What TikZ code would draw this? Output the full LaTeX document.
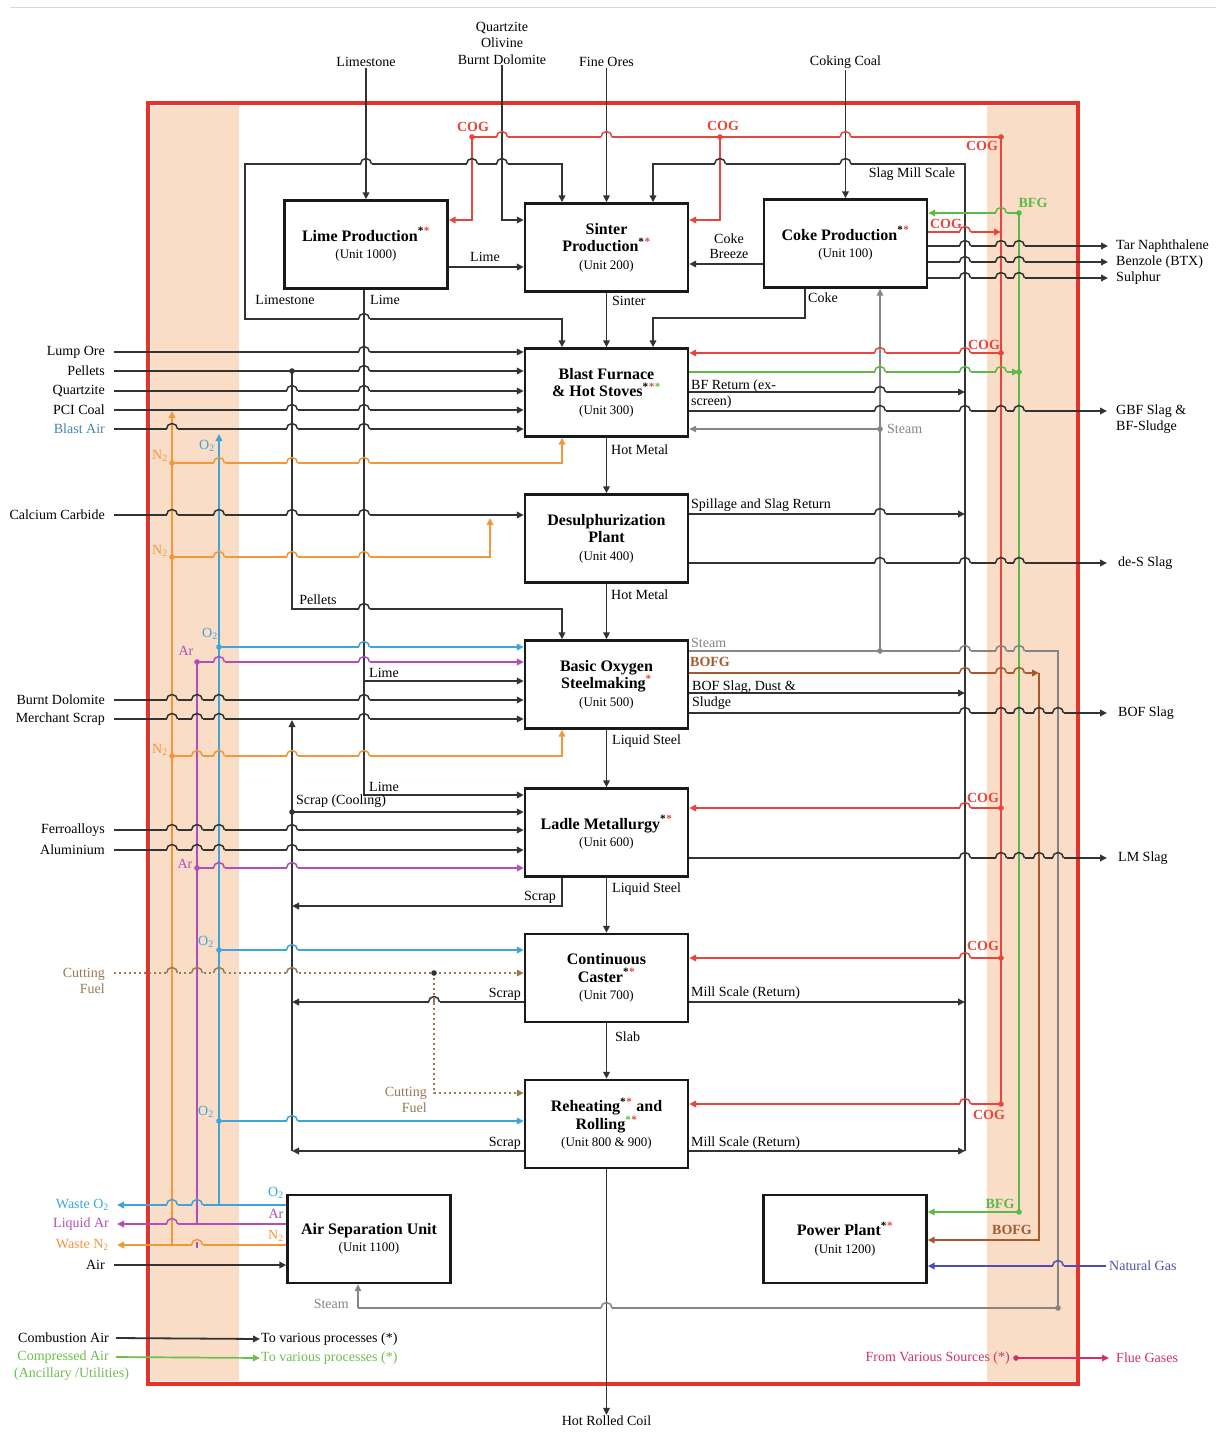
\documentclass[tikz,border=0pt]{standalone}
\usepackage{fontspec}
\setmainfont{Liberation Serif}
\usetikzlibrary{arrows.meta}
\definecolor{framered}{HTML}{E6332A}
\definecolor{peach}{HTML}{F9DDC7}
\definecolor{cogred}{HTML}{E8453C}
\definecolor{bfggreen}{HTML}{5CB947}
\definecolor{o2blue}{HTML}{3DA5DA}
\definecolor{arpurple}{HTML}{B14FB9}
\definecolor{n2orange}{HTML}{F2973A}
\definecolor{bofgbrown}{HTML}{A65A2C}
\definecolor{steamgray}{HTML}{858585}
\definecolor{nggas}{HTML}{4B4FB3}
\definecolor{fluered}{HTML}{D42F6A}
\definecolor{cutbrown}{HTML}{9A7A52}
\definecolor{blastblue}{HTML}{3F86B0}
\definecolor{compgreen}{HTML}{6DBF4B}
\definecolor{linegray}{HTML}{333333}
\newcommand{\stc}[1]{\textsuperscript{\textcolor{#1}{*}}}
\newcommand{\unitx}[1]{{\fontsize{13}{14}\selectfont\mdseries #1}}
\newcommand{\jdot}[2]{\fill[#1] (#2) circle (2.8pt);}
% hop of a horizontal line (colour #1) over a vertical line (colour #2) at (#3,#4)
\newcommand{\hopx}[4]{%
  \pgfmathtruncatemacro{\inband}{((#3>150)&&(#3<240))||((#3>986)&&(#3<1077))}%
  \ifnum\inband=1 \def\hopbg{peach}\else\def\hopbg{white}\fi
  \fill[fill=\hopbg] ({#3-5.5},{#4-1.3}) rectangle ({#3+5.5},{#4+1.3});
  \draw[draw=#2, line width=1.7pt] ({#3},{#4-3}) -- ({#3},{#4+3});
  \draw[draw=#1, line width=1.5pt] ({#3-5.5},{#4}) arc[start angle=180, end angle=0, radius=5.5pt];}
\begin{document}
\begin{tikzpicture}[x=1pt,y=-1pt,
  box/.style={draw=black!90, line width=2.4pt, fill=white, minimum width=163pt, minimum height=88pt, align=center, inner sep=2pt, font=\fontsize{16}{17.5}\selectfont\bfseries},
  lbl/.style={inner sep=1pt, font=\fontsize{14}{16}\selectfont},
  cogl/.style={lbl, text=cogred, font=\fontsize{14}{15}\selectfont\bfseries},
  tip/.style={-{Triangle[length=7pt,width=6.5pt]}},
  ln/.style={draw=linegray, line width=1.8pt},
  arr/.style={ln, tip},
  cogln/.style={draw=cogred, line width=1.9pt},
  cogarr/.style={cogln, tip},
  bfgln/.style={draw=bfggreen, line width=1.9pt},
  bfgarr/.style={bfgln, tip},
  o2ln/.style={draw=o2blue, line width=1.9pt},
  o2arr/.style={o2ln, tip},
  arln/.style={draw=arpurple, line width=1.7pt},
  ararr/.style={arln, tip},
  n2ln/.style={draw=n2orange, line width=1.7pt},
  n2arr/.style={n2ln, tip},
  bofgln/.style={draw=bofgbrown, line width=1.7pt},
  bofgarr/.style={bofgln, tip},
  steamln/.style={draw=steamgray, line width=1.5pt},
  steamarr/.style={steamln, tip},
  ngarr/.style={draw=nggas, line width=1.7pt, tip},
  fluearr/.style={draw=fluered, line width=1.5pt, tip},
  cutarr/.style={draw=cutbrown, line width=1.7pt, dash pattern=on 2pt off 3pt, tip},
  comparr/.style={draw=compgreen, line width=1.7pt, tip}
]
\useasboundingbox (0,0) rectangle (1216,1439);
\fill[white] (0,0) rectangle (1216,1439);
\draw[black!15, line width=1pt] (10,8) -- (1216,8);
\fill[peach] (151,106) rectangle (239,1381);
\fill[peach] (987,106) rectangle (1076,1381);
\draw[framered, line width=4.5pt] (148,103) rectangle (1078,1384);

\coordinate (cogA) at (472,137);
\coordinate (cogB) at (720,137);
\coordinate (cogC) at (1001,137);
\coordinate (cogD) at (1001,1104);
\coordinate (colT) at (965,164);
\coordinate (colB) at (965,1151);
\coordinate (lsL) at (245,240);

% boxes
\node[box] (lime) at (366,244.5) {Lime Production\stc{black}\stc{cogred}\\\unitx{(Unit 1000)}};
\node[box] (sinter) at (606.5,247.5) {Sinter\\Production\stc{black}\stc{cogred}\\\unitx{(Unit 200)}};
\node[box] (coke) at (845.5,243.5) {Coke Production\stc{black}\stc{cogred}\\\unitx{(Unit 100)}};
\node[box] (bf) at (606.5,392.5) {Blast Furnace\\\& Hot Stoves\stc{black}\stc{cogred}\stc{bfggreen}\\\unitx{(Unit 300)}};
\node[box] (ds) at (606.5,538.5) {Desulphurization\\Plant\\\unitx{(Unit 400)}};
\node[box] (bof) at (606.5,684.5) {Basic Oxygen\\Steelmaking\stc{cogred}\\\unitx{(Unit 500)}};
\node[box] (lm) at (606.5,832.5) {Ladle Metallurgy\stc{black}\stc{cogred}\\\unitx{(Unit 600)}};
\node[box] (cc) at (606.5,978) {Continuous\\Caster\stc{black}\stc{cogred}\\\unitx{(Unit 700)}};
\node[box] (rr) at (606.5,1124) {Reheating\stc{black}\stc{cogred} and\\Rolling\stc{bfggreen}\stc{cogred}\\\unitx{(Unit 800 \& 900)}};
\node[box] (asu) at (369,1239) {Air Separation Unit\\\unitx{(Unit 1100)}};
\node[box] (pp) at (845,1239) {Power Plant\stc{black}\stc{cogred}\\\unitx{(Unit 1200)}};

% main chain
\draw[arr] (sinter.south) -- (bf.north);
\draw[arr] (bf.south) -- (ds.north);
\draw[arr] (ds.south) -- (bof.north);
\draw[arr] (bof.south) -- (lm.north);
\draw[arr] (lm.south) -- (cc.north);
\draw[arr] (cc.south) -- (rr.north);
\node[lbl] (hrc) at (606.5,1421) {Hot Rolled Coil};
\draw[arr] (rr.south) -- (hrc.north);
\node[lbl, anchor=west] (lsinter) at (611,301) {Sinter};
\node[lbl, anchor=west] (lhm1) at (610,450) {Hot Metal};
\node[lbl, anchor=west] (lhm2) at (610,595) {Hot Metal};
\node[lbl, anchor=west] (lls1) at (611,741) {Liquid Steel};
\node[lbl, anchor=west] (lls2) at (611,889) {Liquid Steel};
\node[lbl, anchor=west] (lslab) at (614,1037) {Slab};

% top inputs
\node[lbl] (limestone) at (366,62) {Limestone};
\draw[arr] (limestone.south) -- (lime.north);
\node[lbl, align=center, font=\fontsize{14}{16.5}\selectfont] (qob) at (502,43) {Quartzite\\Olivine\\Burnt Dolomite};
\draw[arr] (qob.south) |- (sinter.west |- 0,220);
\node[lbl] (fineores) at (606.5,62) {Fine Ores};
\draw[arr] (fineores.south) -- (sinter.north);
\node[lbl] (cokingcoal) at (845.5,62) {Coking Coal};
\draw[arr] (cokingcoal.south) -- (coke.north);

% COG network
\draw[cogln] (cogA) -- (cogC) -- (cogD);
\draw[cogarr] (cogA) |- (lime.east |- 0,220);
\draw[cogarr] (cogB) |- (sinter.east |- 0,220);
\draw[cogarr] (coke.east |- 0,232) -- (cogC |- 0,232);
\draw[cogarr] (cogC |- 0,353) -- (bf.east |- 0,353);
\draw[cogarr] (cogC |- 0,808) -- (lm.east |- 0,808);
\draw[cogarr] (cogC |- 0,958) -- (cc.east |- 0,958);
\draw[cogarr] (cogD) -- (rr.east |- cogD);

% return loops
\draw[arr] (colB) -- (colT) -| (sinter.north -| 653,0);
\draw[arr] (lsL) |- (562,164) -- (sinter.north -| 562,0);
\draw[arr] (lsL) |- (562,319) -- (bf.north -| 562,0);

% lime
\draw[arr] (lime.east |- 0,267) -- (sinter.west |- 0,267);
\draw[arr] (lime.south -| 364,0) |- (lm.west |- 0,795);
\draw[arr] (364,681) -- (bof.west |- 0,681);

% coke
\draw[arr] (coke.west |- 0,264) -- (sinter.east |- 0,264);
\draw[arr] (coke.south -| 805,0) |- (653,318) -- (bf.north -| 653,0);

% left BF inputs
\node[lbl, anchor=east] (lumpore) at (106,352) {Lump Ore};
\node[lbl, anchor=east] (pellets) at (106,371) {Pellets};
\node[lbl, anchor=east] (quartzite) at (106,391) {Quartzite};
\node[lbl, anchor=east] (pcicoal) at (106,410) {PCI Coal};
\node[lbl, anchor=east, text=blastblue] (blastair) at (106,429) {Blast Air};
\draw[arr] ([xshift=8pt]lumpore.east) -- (bf.west |- lumpore);
\draw[arr] ([xshift=8pt]pellets.east) -- (bf.west |- pellets);
\draw[arr] ([xshift=8pt]quartzite.east) -- (bf.west |- quartzite);
\draw[arr] ([xshift=8pt]pcicoal.east) -- (bf.west |- pcicoal);
\draw[arr] ([xshift=8pt]blastair.east) -- (bf.west |- blastair);
\draw[arr] (292,371) |- (562,609) -- (bof.north -| 562,0);

% other left inputs
\node[lbl, anchor=east] (cacarb) at (106,515) {Calcium Carbide};
\draw[arr] ([xshift=8pt]cacarb.east) -- (ds.west |- cacarb);
\node[lbl, anchor=east] (bdolo) at (106,700) {Burnt Dolomite};
\draw[arr] ([xshift=8pt]bdolo.east) -- (bof.west |- bdolo);
\node[lbl, anchor=east] (mscrap) at (106,719) {Merchant Scrap};
\draw[arr] ([xshift=8pt]mscrap.east) -- (bof.west |- mscrap);
\node[lbl, anchor=east] (ferro) at (106,830) {Ferroalloys};
\draw[arr] ([xshift=8pt]ferro.east) -- (lm.west |- ferro);
\node[lbl, anchor=east] (alu) at (106,850) {Aluminium};
\draw[arr] ([xshift=8pt]alu.east) -- (lm.west |- alu);

% N2
\draw[n2arr] (172,1245) -- (172,411);
\draw[n2arr] (172,463) -| (bf.south -| 562,0);
\draw[n2arr] (172,557) -| (490,518);
\draw[n2arr] (172,756) -| (bof.south -| 562,0);

% O2
\draw[o2arr] (219,1205) -- (219,434);
\draw[o2arr] (219,647) -- (bof.west |- 0,647);
\draw[o2arr] (219,950) -- (cc.west |- 0,950);
\draw[o2arr] (219,1121) -- (rr.west |- 0,1121);

% Ar
\draw[arln] (197,1224) -- (197,662);
\draw[ararr] (197,662) -- (bof.west |- 0,662);
\draw[ararr] (197,868) -- (lm.west |- 0,868);

% ASU
\node[lbl, anchor=east, text=o2blue] (wasteo2) at (110,1205) {Waste O\textsubscript{2}};
\node[lbl, anchor=east, text=arpurple] (liqar) at (110,1224) {Liquid Ar};
\node[lbl, anchor=east, text=n2orange] (wasten2) at (110,1245) {Waste N\textsubscript{2}};
\node[lbl, anchor=east] (air) at (106,1265) {Air};
\draw[o2arr] (asu.west |- wasteo2) -- ([xshift=7pt]wasteo2.east);
\draw[ararr] (asu.west |- liqar) -- ([xshift=7pt]liqar.east);
\draw[n2arr] (asu.west |- wasten2) -- ([xshift=7pt]wasten2.east);
\draw[arr] ([xshift=8pt]air.east) -- (asu.west |- air);

% cutting fuel
\coordinate (cfS) at (114,973);
\node[lbl, anchor=east, align=right, text=cutbrown] (cf1) at (106,981) {Cutting\\Fuel};
\draw[cutarr] (cfS) -- (cc.west |- cfS);
\draw[cutarr] (434,973) |- (rr.west |- 0,1093);
\node[lbl, anchor=east, align=right, text=cutbrown] (cf2) at (428,1100) {Cutting\\Fuel};

% scrap
\draw[arr] (292,1151) -- (292,720);
\draw[arr] (292,812) -- (lm.west |- 0,812);
\draw[arr] (lm.south -| 562,0) |- (292,906);
\draw[arr] (cc.west |- 0,1002) -- (292,1002);
\draw[arr] (rr.west |- 0,1151) -- (292,1151);

% right side BF
\draw[bfgarr] (bf.east |- 0,372) -- (1019,372);
\draw[arr] (bf.east |- 0,392) -- (colT |- 0,392);
\draw[arr] (bf.east |- 0,411) -- (1107,411);
\draw[steamarr] (880,429) -- (bf.east |- 0,429);
\draw[steamarr] (880,651) -- (coke.south -| 880,0);
\draw[steamln] (bof.east |- 0,651) -- (1058,651) -- (1058,1308) -- (358,1308);
\draw[steamarr] (358,1308) -- (asu.south -| 358,0);

% desulph right
\draw[arr] (ds.east |- 0,514) -- (colT |- 0,514);
\draw[arr] (ds.east |- 0,563) -- (1107,563);

% BOF right
\draw[bofgarr] (bof.east |- 0,673) -- (1039,673);
\draw[bofgarr] (1039,673) |- (pp.east |- 0,1240);
\draw[arr] (bof.east |- 0,693) -- (colT |- 0,693);
\draw[arr] (bof.east |- 0,713) -- (1107,713);

% LM, CC, RR right
\draw[arr] (lm.east |- 0,858) -- (1107,858);
\draw[arr] (cc.east |- 0,1002) -- (colT |- 0,1002);
\draw[arr] (rr.east |- 0,1151) -- (colB);

% BFG
\draw[bfgln] (1019,1212) -- (1019,213);
\draw[bfgarr] (1019,213) -- (coke.east |- 0,213);
\draw[bfgarr] (1019,1212) -- (pp.east |- 0,1212);

% coke outputs
\node[lbl, anchor=west] (tar) at (1115,246) {Tar Naphthalene};
\node[lbl, anchor=west] (benz) at (1115,262) {Benzole (BTX)};
\node[lbl, anchor=west] (sulph) at (1115,278) {Sulphur};
\draw[arr] (coke.east |- tar) -- ([xshift=-7pt]tar.west);
\draw[arr] (coke.east |- benz) -- ([xshift=-7pt]benz.west);
\draw[arr] (coke.east |- sulph) -- ([xshift=-7pt]sulph.west);

% natural gas
\node[lbl, anchor=west, text=nggas] (ng) at (1108,1266) {Natural Gas};
\draw[ngarr] ([xshift=-2pt]ng.west) -- (pp.east |- ng);

% ---------- line hops at crossings: x/y/horizontal colour/vertical colour ----------
\foreach \hx/\hy/\hc/\vc in {
  364/319/linegray/linegray, 364/352/linegray/linegray, 364/371/linegray/linegray, 364/391/linegray/linegray,
  364/410/linegray/linegray, 364/429/linegray/linegray, 364/515/linegray/linegray, 364/609/linegray/linegray,
  364/700/linegray/linegray, 364/719/linegray/linegray,
  292/391/linegray/linegray, 292/410/linegray/linegray, 292/429/linegray/linegray, 292/515/linegray/linegray,
  292/830/linegray/linegray, 292/850/linegray/linegray,
  502/164/linegray/linegray, 366/164/linegray/linegray, 845.5/164/linegray/linegray,
  965/246/linegray/linegray, 965/262/linegray/linegray, 965/278/linegray/linegray, 965/411/linegray/linegray,
  965/563/linegray/linegray, 965/713/linegray/linegray, 965/858/linegray/linegray,
  172/429/linegray/n2orange, 172/515/linegray/n2orange, 172/700/linegray/n2orange, 172/719/linegray/n2orange,
  172/830/linegray/n2orange, 172/850/linegray/n2orange,
  197/700/linegray/arpurple, 197/719/linegray/arpurple, 197/830/linegray/arpurple, 197/850/linegray/arpurple,
  219/515/linegray/o2blue, 219/700/linegray/o2blue, 219/719/linegray/o2blue, 219/830/linegray/o2blue, 219/850/linegray/o2blue,
  434/1002/linegray/cutbrown,
  472/164/linegray/cogred, 720/164/linegray/cogred,
  1001/246/linegray/cogred, 1001/262/linegray/cogred, 1001/278/linegray/cogred, 1001/411/linegray/cogred,
  1001/563/linegray/cogred, 1001/713/linegray/cogred, 1001/858/linegray/cogred,
  880/392/linegray/steamgray, 880/411/linegray/steamgray, 880/514/linegray/steamgray, 880/563/linegray/steamgray,
  1058/713/linegray/steamgray, 1058/858/linegray/steamgray,
  1019/246/linegray/bfggreen, 1019/262/linegray/bfggreen, 1019/278/linegray/bfggreen, 1019/411/linegray/bfggreen,
  1019/563/linegray/bfggreen, 1019/713/linegray/bfggreen, 1019/858/linegray/bfggreen,
  1039/713/linegray/bofgbrown, 1039/858/linegray/bofgbrown,
  502/137/cogred/linegray, 606.5/137/cogred/linegray, 845.5/137/cogred/linegray,
  965/232/cogred/linegray, 965/353/cogred/linegray, 965/808/cogred/linegray, 965/958/cogred/linegray, 965/1104/cogred/linegray,
  880/353/cogred/steamgray,
  880/372/bfggreen/steamgray, 965/372/bfggreen/linegray, 1001/372/bfggreen/cogred, 1001/213/bfggreen/cogred,
  965/651/steamgray/linegray, 1001/651/steamgray/cogred, 1019/651/steamgray/bfggreen,
  965/673/bofgbrown/linegray, 1001/673/bofgbrown/cogred, 1019/673/bofgbrown/bfggreen,
  219/463/n2orange/o2blue, 219/557/n2orange/o2blue, 219/756/n2orange/o2blue,
  292/463/n2orange/linegray, 364/463/n2orange/linegray, 292/557/n2orange/linegray, 364/557/n2orange/linegray,
  292/756/n2orange/linegray, 364/756/n2orange/linegray, 197/756/n2orange/arpurple, 197/1245/n2orange/arpurple,
  219/662/arpurple/o2blue, 219/868/arpurple/o2blue, 364/662/arpurple/linegray, 292/868/arpurple/linegray,
  172/1224/arpurple/n2orange,
  364/647/o2blue/linegray, 292/950/o2blue/linegray, 292/1121/o2blue/linegray,
  172/1205/o2blue/n2orange, 197/1205/o2blue/arpurple,
  172/973/cutbrown/n2orange, 197/973/cutbrown/arpurple, 219/973/cutbrown/o2blue, 292/973/cutbrown/linegray,
  1058/1266/nggas/steamgray, 606.5/1308/steamgray/linegray}
  {\hopx{\hc}{\vc}{\hx}{\hy}}

% junction dots
\jdot{cogred}{cogA} \jdot{cogred}{cogB} \jdot{cogred}{cogC}
\jdot{cogred}{1001,353} \jdot{cogred}{1001,808} \jdot{cogred}{1001,958} \jdot{cogred}{cogD}
\jdot{linegray}{292,371}
\jdot{n2orange}{172,463} \jdot{n2orange}{172,557} \jdot{n2orange}{172,756}
\jdot{o2blue}{219,647} \jdot{o2blue}{219,950} \jdot{o2blue}{219,1121}
\jdot{arpurple}{197,662} \jdot{arpurple}{197,868}
\jdot{linegray}{434,973}
\jdot{linegray}{292,812}
\jdot{steamgray}{880,429}
\jdot{steamgray}{880,651} \jdot{steamgray}{1058,1308}
\jdot{bfggreen}{1019,213} \jdot{bfggreen}{1019,372} \jdot{bfggreen}{1019,1212}

% ---------- labels ----------
\node[cogl] (cog1) at (473,127) {COG};
\node[cogl] (cog2) at (723,126) {COG};
\node[cogl] (cog3) at (982,146) {COG};
\node[cogl] (cog4) at (946,224) {COG};
\node[cogl] (cog5) at (984,345) {COG};
\node[cogl] (cog6) at (983,798) {COG};
\node[cogl] (cog7) at (983,946) {COG};
\node[cogl] (cog8) at (989,1115) {COG};
\node[lbl] (slagmill) at (912,174) {Slag Mill Scale};
\node[lbl] (llimestone) at (285,300) {Limestone};
\node[lbl] (llime1) at (485,257) {Lime};
\node[lbl] (llime2) at (385,300) {Lime};
\node[lbl, anchor=west] (llime3) at (368,673) {Lime};
\node[lbl, anchor=west] (llime4) at (368,787) {Lime};
\node[lbl, align=center, font=\fontsize{14}{15.5}\selectfont] (lbreeze) at (729,246) {Coke\\Breeze};
\node[lbl] (lcoke) at (823,298) {Coke};
\node[lbl] (lpellets) at (318,600) {Pellets};
\node[lbl, text=n2orange] (ln2a) at (160,456) {N\textsubscript{2}};
\node[lbl, text=n2orange] (ln2b) at (160,551) {N\textsubscript{2}};
\node[lbl, text=n2orange] (ln2c) at (160,750) {N\textsubscript{2}};
\node[lbl, text=o2blue] (lo2a) at (207,446) {O\textsubscript{2}};
\node[lbl, text=o2blue] (lo2b) at (210,634) {O\textsubscript{2}};
\node[lbl, text=o2blue] (lo2c) at (206,942) {O\textsubscript{2}};
\node[lbl, text=o2blue] (lo2d) at (206,1112) {O\textsubscript{2}};
\node[lbl, text=arpurple] (lara) at (186,651) {Ar};
\node[lbl, text=arpurple] (larb) at (185,864) {Ar};
\node[lbl, text=o2blue] (lo2e) at (276,1193) {O\textsubscript{2}};
\node[lbl, text=arpurple] (larc) at (276,1214) {Ar};
\node[lbl, text=n2orange] (ln2d) at (276,1236) {N\textsubscript{2}};
\node[lbl, anchor=west] (lscool) at (295,801) {Scrap (Cooling)};
\node[lbl] (lscrap1) at (540,897) {Scrap};
\node[lbl, anchor=east] (lscrap2) at (522,994) {Scrap};
\node[lbl, anchor=east] (lscrap3) at (522,1143) {Scrap};
\node[lbl, anchor=west, align=left] (lbfret) at (690,394) {BF Return (ex-\\screen)};
\node[lbl, anchor=west, align=left] (lgbf) at (1115,419) {GBF Slag \&\\BF-Sludge};
\node[lbl, anchor=west, text=steamgray] (lsteam1) at (886,429) {Steam};
\node[lbl, anchor=west, text=steamgray] (lsteam2) at (690,643) {Steam};
\node[lbl, anchor=east, text=steamgray] (lsteam3) at (350,1304) {Steam};
\node[lbl, anchor=west] (lspill) at (690,505) {Spillage and Slag Return};
\node[lbl, anchor=west] (ldes) at (1117,563) {de-S Slag};
\node[lbl, anchor=west, text=bofgbrown, font=\fontsize{14}{15}\selectfont\bfseries] (lbofg1) at (689,662) {BOFG};
\node[lbl, text=bofgbrown, font=\fontsize{14}{15}\selectfont\bfseries] (lbofg2) at (1012,1230) {BOFG};
\node[lbl, anchor=west, align=left] (lbofsd) at (691,695) {BOF Slag, Dust \&\\Sludge};
\node[lbl, anchor=west] (lbofslag) at (1117,713) {BOF Slag};
\node[lbl, anchor=west] (llmslag) at (1117,858) {LM Slag};
\node[lbl, anchor=west] (lmill1) at (690,993) {Mill Scale (Return)};
\node[lbl, anchor=west] (lmill2) at (690,1143) {Mill Scale (Return)};
\node[lbl, text=bfggreen, font=\fontsize{14}{15}\selectfont\bfseries] (lbfg1) at (1033,203) {BFG};
\node[lbl, text=bfggreen, font=\fontsize{14}{15}\selectfont\bfseries] (lbfg2) at (1000,1204) {BFG};

% bottom left
\node[lbl, anchor=east] (combair) at (110,1338) {Combustion Air};
\node[lbl, anchor=west] (tvp1) at (260,1339) {To various processes (*)};
\draw[arr] ([xshift=6pt]combair.east) -- (tvp1.west);
\node[lbl, anchor=east, text=compgreen] (compair) at (110,1357) {Compressed Air};
\node[lbl, anchor=west, text=compgreen] (ancil) at (13,1374) {(Ancillary /Utilities)};
\node[lbl, anchor=west, text=compgreen] (tvp2) at (260,1358) {To various processes (*)};
\draw[comparr] ([xshift=6pt]compair.east) -- (tvp2.west);

% bottom right
\node[lbl, anchor=east, text=fluered] (fvs) at (1011,1358) {From Various Sources (*)};
\node[lbl, anchor=west, text=fluered] (flue) at (1115,1358) {Flue Gases};
\draw[fluearr] ([xshift=4pt]fvs.east) -- ([xshift=-6pt]flue.west);
\jdot{fluered}{1016,1358}
\end{tikzpicture}
\end{document}
